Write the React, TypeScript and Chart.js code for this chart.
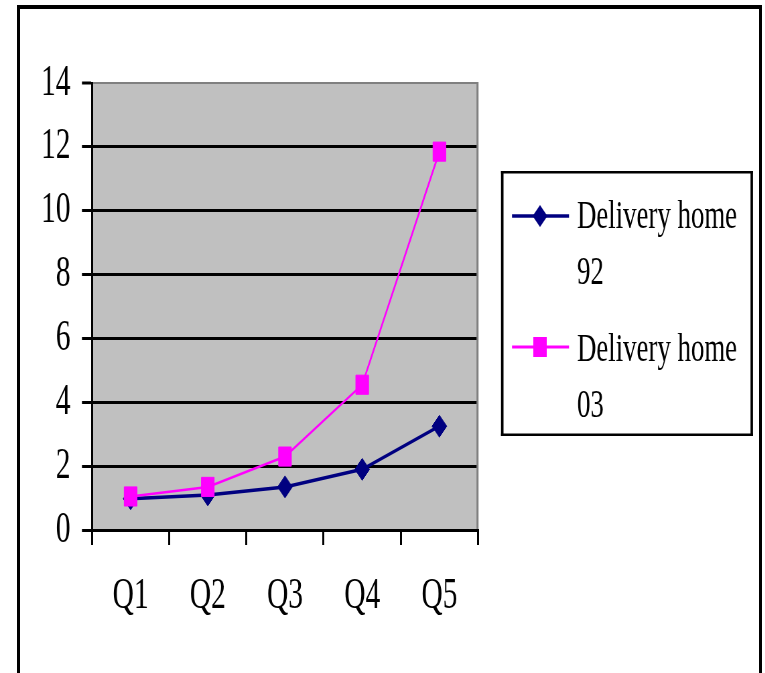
import React, { useEffect, useRef } from 'react';
import { Chart, registerables } from 'chart.js';

Chart.register(...registerables);

const categories = ['Q1', 'Q2', 'Q3', 'Q4', 'Q5'];
const home92 = [0.98, 1.1, 1.35, 1.9, 3.25];
const home03 = [1.05, 1.35, 2.3, 4.55, 11.85];
const legendLines = [
  ['Delivery home', '92'],
  ['Delivery home', '03'],
];
const seriesColors = ['#000080', '#FF00FF'];

const SX = 0.67;
const VW = 765;
const VH = 673;
const W = Math.round(VW / SX);
const ix = (v: number) => v / SX;

const plotBg = {
  id: 'plotBg',
  beforeDraw(chart: any) {
    const { ctx, chartArea: a } = chart;
    ctx.save();
    ctx.fillStyle = '#C0C0C0';
    ctx.fillRect(a.left, a.top, a.right - a.left, a.bottom - a.top);
    ctx.restore();
  },
  afterDraw(chart: any) {
    const { ctx, chartArea: a } = chart;
    ctx.save();
    ctx.fillStyle = '#808080';
    ctx.fillRect(a.right - ix(1.5), a.top - 1, ix(2), a.bottom - a.top);
    ctx.restore();
  },
};

const customLegend = {
  id: 'customLegend',
  afterDraw(chart: any) {
    const ctx = chart.ctx;
    ctx.save();
    // box
    const x0 = ix(501), x1 = ix(753), y0 = 171, y1 = 436;
    ctx.fillStyle = '#000';
    ctx.fillRect(x0, y0, x1 - x0, 2.5);
    ctx.fillRect(x0, y1 - 2.5, x1 - x0, 2.5);
    ctx.fillRect(x0, y0, ix(2.5), y1 - y0);
    ctx.fillRect(x1 - ix(2.5), y0, ix(2.5), y1 - y0);

    const sampleY = [216, 347];
    const baselines = [[228, 284], [361, 417]];
    legendLines.forEach((lines, i) => {
      const col = seriesColors[i];
      const y = sampleY[i];
      ctx.strokeStyle = col;
      ctx.lineWidth = i === 0 ? 3.5 : 3;
      ctx.beginPath();
      ctx.moveTo(ix(512), y);
      ctx.lineTo(ix(569), y);
      ctx.stroke();
      ctx.fillStyle = col;
      const cx = ix(540);
      if (i === 0) {
        const r = 11;
        ctx.beginPath();
        ctx.moveTo(cx - r, y);
        ctx.lineTo(cx, y - r);
        ctx.lineTo(cx + r, y);
        ctx.lineTo(cx, y + r);
        ctx.closePath();
        ctx.fill();
      } else {
        ctx.fillRect(cx - 10, y - 10, 20, 20);
      }
      ctx.fillStyle = '#000';
      ctx.font = '40px "Liberation Serif"';
      ctx.textBaseline = 'alphabetic';
      ctx.textAlign = 'left';
      lines.forEach((t, k) => ctx.fillText(t, ix(577), baselines[i][k]));
    });
    ctx.restore();
  },
};

export default function App() {
  const ref = useRef<HTMLCanvasElement>(null);
  useEffect(() => {
    if (!ref.current) return;
    const chart = new Chart(ref.current, {
      type: 'line',
      data: {
        labels: categories,
        datasets: [
          {
            label: legendLines[0].join(' '),
            data: home92,
            borderColor: seriesColors[0],
            backgroundColor: seriesColors[0],
            borderWidth: 3.5,
            pointStyle: 'rectRot',
            pointRadius: 11,
            pointBorderWidth: 1,
            tension: 0,
            order: 1,
            clip: false as any,
          },
          {
            label: legendLines[1].join(' '),
            data: home03,
            borderColor: seriesColors[1],
            backgroundColor: seriesColors[1],
            borderWidth: 2.5,
            pointStyle: 'rect',
            pointRadius: 13.5,
            pointBorderWidth: 1,
            tension: 0,
            order: 0,
            clip: false as any,
          },
        ],
      },
      options: {
        responsive: false,
        animation: false,
        devicePixelRatio: 1,
        layout: { padding: { left: 0, top: 83, right: W - ix(478), bottom: 0 } },
        plugins: { legend: { display: false }, tooltip: { enabled: false }, title: { display: false } },
        scales: {
          x: {
            type: 'category',
            offset: true,
            afterFit: (s: any) => { s.height = VH - 530; },
            grid: {
              offset: true,
              drawOnChartArea: false,
              drawTicks: true,
              tickLength: 15,
              color: '#000',
              lineWidth: 3,
            },
            border: { display: true, color: '#000', width: 3 },
            ticks: {
              color: '#000',
              padding: 25,
              font: { family: '"Liberation Serif"', size: 44 },
              maxRotation: 0,
            },
          },
          y: {
            min: 0,
            max: 14,
            afterFit: (s: any) => { s.width = ix(92); },
            grid: {
              color: (c: any) => (c.tick && c.tick.value === 14 ? '#808080' : '#000'),
              lineWidth: (c: any) => (c.tick && c.tick.value === 14 ? 2 : 3),
              tickColor: '#000',
              tickWidth: 3,
              tickLength: 15,
              drawTicks: true,
            },
            border: { display: true, color: '#000', width: 3 },
            ticks: {
              stepSize: 2,
              color: '#000',
              padding: 17,
              font: { family: '"Liberation Serif"', size: 44 },
            },
          },
        },
      },
      plugins: [plotBg, customLegend],
    });
    return () => chart.destroy();
  }, []);

  return (
    <div style={{ position: 'absolute', left: 0, top: 0, width: VW, height: VH, overflow: 'hidden', background: '#fff' }}>
      <div
        style={{
          position: 'absolute', left: 0, top: 0, width: W, height: VH,
          transform: `scaleX(${SX})`, transformOrigin: '0 0',
        }}
      >
        <canvas ref={ref} width={W} height={VH} style={{ display: 'block' }} />
      </div>
      <div
        style={{
          position: 'absolute', left: 17, top: 5, width: 762 - 17, height: 720,
          boxSizing: 'border-box', border: '3px solid #000', borderTopWidth: 4,
          pointerEvents: 'none',
        }}
      />
    </div>
  );
}
